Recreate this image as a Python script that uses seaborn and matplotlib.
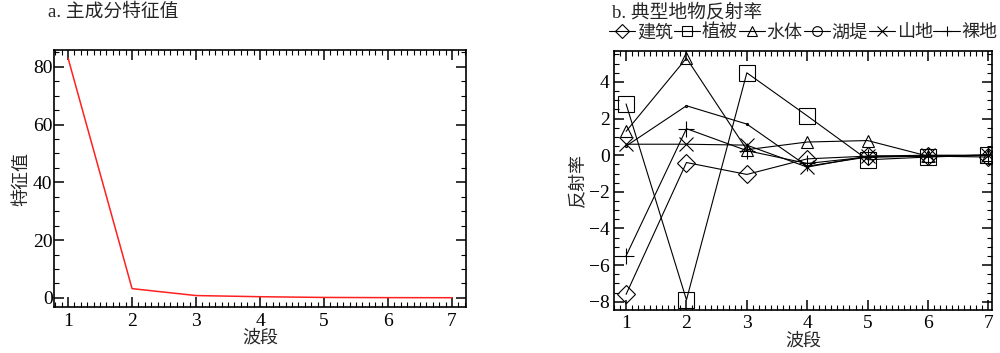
import numpy as np
import pandas as pd
import matplotlib
matplotlib.use("Agg")
import matplotlib.pyplot as plt
import seaborn as sns
from matplotlib.ticker import MultipleLocator

# -------------------------------
# Data
# -------------------------------
bands = [1, 2, 3, 4, 5, 6, 7]
eigen = [83.0, 3.2, 0.8, 0.4, 0.15, 0.08, 0.05]

names = ["建筑", "植被", "水体", "湖堤", "山地", "裸地"]
jianzhu = [-7.6, -0.4, -1.05, -0.2, -0.05, -0.05, -0.1]
zhibei = [2.8, -7.9, 4.5, 2.15, -0.25, -0.1, 0.0]
shuiti = [1.3, 5.3, 0.3, 0.72, 0.8, -0.05, 0.0]
hudi = [0.5, 2.7, 1.7, -0.6, -0.1, -0.05, 0.0]
shandi = [0.6, 0.6, 0.55, -0.65, -0.05, 0.0, 0.0]
luodi = [-5.5, 1.45, 0.25, -0.45, -0.1, -0.05, 0.0]
series = [jianzhu, zhibei, shuiti, hudi, shandi, luodi]
markers = ["D", "s", "^", "o", "x", "+"]
msizes = [9, 11, 8, 1.5, 10, 11]

# -------------------------------
# Style
# -------------------------------
sns.set_style("ticks")
plt.rcParams["font.family"] = ["Liberation Serif", "Noto Sans CJK SC"]
plt.rcParams["axes.unicode_minus"] = True

fig = plt.figure(figsize=(10, 3.53), dpi=100)
ax1 = fig.add_axes([0.054, 0.130, 0.412, 0.728])
ax2 = fig.add_axes([0.614, 0.122, 0.378, 0.734])

# -------------------------------
# a. eigenvalues
# -------------------------------
sns.lineplot(x=bands, y=eigen, ax=ax1, color="#ff2020", linewidth=1.1)
ax1.set_xlim(0.78, 7.22)
ax1.set_ylim(-3.2, 85.8)
ax1.xaxis.set_major_locator(MultipleLocator(1))
ax1.xaxis.set_minor_locator(MultipleLocator(0.1))
ax1.yaxis.set_major_locator(MultipleLocator(20))
ax1.yaxis.set_minor_locator(MultipleLocator(5))
ax1.set_xlabel("波段", fontsize=13, labelpad=0)
ax1.set_ylabel("特征值", fontsize=13, labelpad=2)
ax1.text(0.048, 0.965, "a. 主成分特征值", transform=fig.transFigure,
         fontsize=13.5, ha="left", va="center")

# -------------------------------
# b. reflectance
# -------------------------------
for name, vals, m, ms in zip(names, series, markers, msizes):
    sns.lineplot(x=bands, y=vals, ax=ax2, color="black", linewidth=0.8,
                 marker=m, markersize=ms, mfc="none", mec="black",
                 mew=0.8, label=name)
ax2.set_xlim(0.8, 7.06)
ax2.set_ylim(-8.45, 5.7)
ax2.xaxis.set_major_locator(MultipleLocator(1))
ax2.xaxis.set_minor_locator(MultipleLocator(0.1))
ax2.yaxis.set_major_locator(MultipleLocator(2))
ax2.yaxis.set_minor_locator(MultipleLocator(0.5))
ax2.set_xlabel("波段", fontsize=13, labelpad=0)
ax2.set_ylabel("反射率", fontsize=13, labelpad=1)
ax2.text(0.612, 0.965, "b. 典型地物反射率", transform=fig.transFigure,
         fontsize=13.5, ha="left", va="center")

handles, labels = ax2.get_legend_handles_labels()
ax2.get_legend().remove()
leg = fig.legend(handles, labels, loc="center left",
                 bbox_to_anchor=(0.609, 1 - 33 / 353), ncol=6, frameon=False,
                 fontsize=13, handlelength=1.45, handletextpad=0.1,
                 columnspacing=0.05, borderpad=0, borderaxespad=0)
for h in leg.legend_handles:
    h.set_markersize(7)

for ax in (ax1, ax2):
    for sp in ax.spines.values():
        sp.set_visible(True)
        sp.set_linewidth(1.2)
        sp.set_color("black")
    ax.tick_params(which="both", direction="in", top=True, right=True,
                   labelsize=14, colors="black")
    ax.tick_params(which="major", length=7, width=1.1)
    ax.tick_params(which="minor", length=3.5, width=0.8)
    ax.tick_params(axis="x", which="major", pad=4)

ax1.tick_params(axis="y", which="major", pad=1)
ax2.tick_params(axis="y", which="major", pad=3)

fig.savefig("out.png", dpi=100)
